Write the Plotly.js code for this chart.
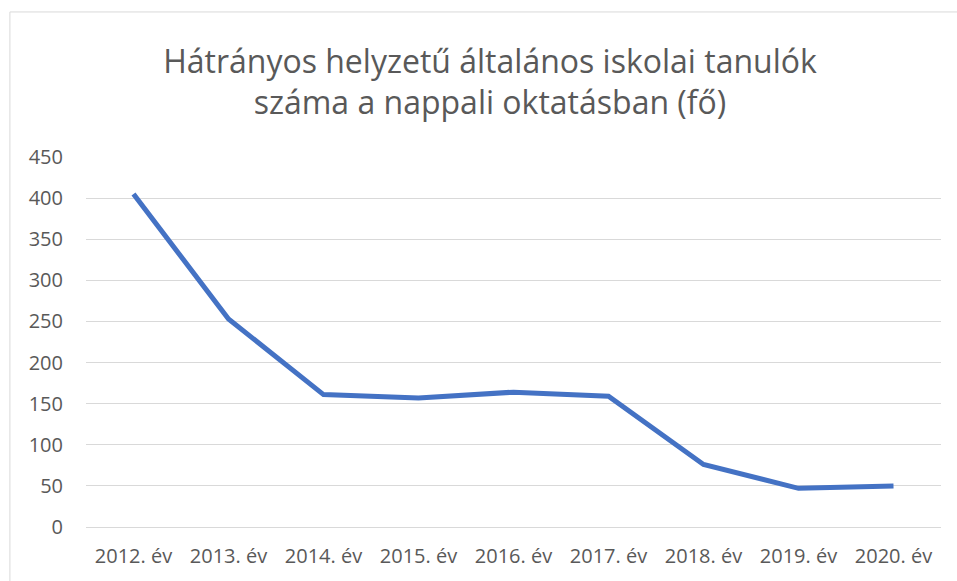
<!DOCTYPE html>
<html>
<head>
<meta charset="utf-8">
<script src="https://cdn.plot.ly/plotly-3.0.1.min.js"></script>
<style>
html,body{margin:0;padding:0;background:#fff;}
#chart{width:957px;height:581px;}
</style>
</head>
<body>
<div id="chart"></div>
<script>
const categories = ["2012. év","2013. év","2014. év","2015. év","2016. év","2017. év","2018. év","2019. év","2020. év"];
const values = [405, 253, 161, 157, 164, 159, 76, 47, 50];
const yTicks = [0, 50, 100, 150, 200, 250, 300, 350, 400, 450];
const titleText = "Hátrányos helyzetű általános iskolai tanulók<br>száma a nappali oktatásban (fő)";

const trace = {
  x: categories,
  y: values,
  type: "scatter",
  mode: "lines",
  line: {color: "#4472C4", width: 5},
  hoverinfo: "x+y"
};

const layout = {
  width: 957,
  height: 581,
  margin: {l: 86, r: 16, t: 157, b: 54},
  paper_bgcolor: "#ffffff",
  plot_bgcolor: "#ffffff",
  showlegend: false,
  font: {family: "Open Sans, sans-serif", color: "#595959"},
  title: {
    text: titleText,
    font: {family: "Open Sans, sans-serif", size: 32, color: "#595959"},
    x: 0.512,
    xanchor: "center",
    y: 0.875,
    yanchor: "top"
  },
  xaxis: {
    type: "category",
    range: [-0.5, 8.5],
    showgrid: false,
    zeroline: false,
    showline: false,
    ticks: "",
    ticklabelstandoff: 15,
    tickfont: {size: 20, color: "#595959"},
    automargin: false
  },
  yaxis: {
    range: [0, 450],
    tickvals: yTicks,
    ticktext: yTicks.map(String),
    showgrid: true,
    gridcolor: "#d9d9d9",
    gridwidth: 1,
    zeroline: true,
    zerolinecolor: "#d9d9d9",
    zerolinewidth: 1,
    showline: false,
    ticks: "",
    ticklabelstandoff: 22,
    tickfont: {size: 20, color: "#595959"},
    automargin: false
  },
  shapes: [{
    type: "rect",
    xref: "paper", yref: "paper",
    x0: -0.089, x1: 1.2, y0: -0.3, y1: 1.392,
    line: {color: "#d9d9d9", width: 1},
    fillcolor: "rgba(0,0,0,0)",
    layer: "below"
  }]
};

Plotly.newPlot("chart", [trace], layout, {displayModeBar: false, staticPlot: true});
</script>
</body>
</html>
